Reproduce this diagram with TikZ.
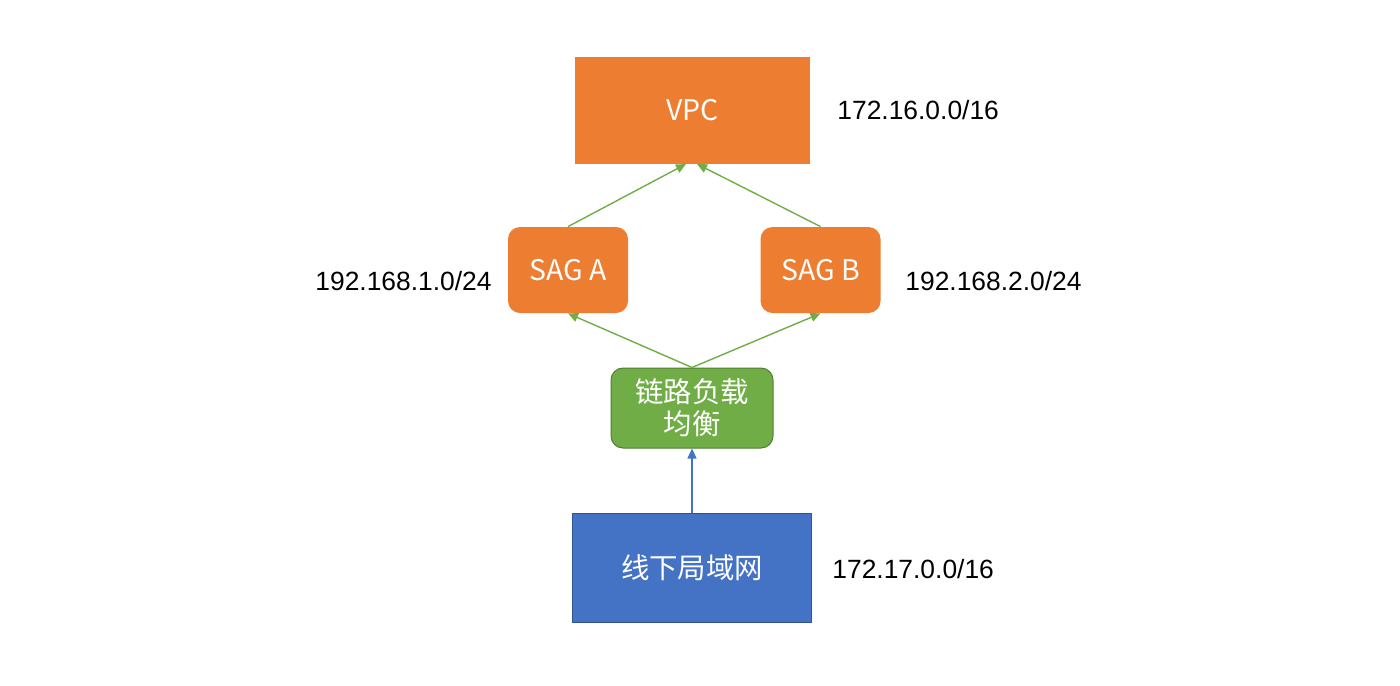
\documentclass[tikz,border=0pt]{standalone}
\usepackage{fontspec}
\setmainfont{Liberation Sans}
\newfontfamily\cjk{Noto Sans CJK SC}
\usetikzlibrary{arrows.meta}
\definecolor{orng}{HTML}{ED7D31}
\definecolor{grn}{HTML}{70AD47}
\definecolor{grnd}{HTML}{507E32}
\definecolor{blu}{HTML}{4472C4}
\definecolor{blud}{HTML}{2F528F}
\tikzset{
  box/.style={inner sep=0pt, text=white, font=\cjk\fontsize{14.2}{16}\selectfont, align=center},
  lbl/.style={inner sep=0pt, font=\fontsize{13.2}{15}\selectfont},
  garr/.style={draw=grn, line width=0.7pt, -{Triangle[length=5pt,width=4.5pt]}},
  barr/.style={draw=blu, line width=0.7pt, -{Triangle[length=5pt,width=4.5pt]}}
}
\begin{document}
\begin{tikzpicture}[x=0.5pt,y=-0.5pt]
\useasboundingbox (0,0) rectangle (1400,685);
\node[box, fill=orng, minimum width=117.5pt, minimum height=53.5pt] (vpc) at (692.5,110.5) {VPC};
\node[box, fill=orng, rounded corners=6pt, minimum width=60pt, minimum height=43pt] (saga) at (568,270) {SAG A};
\node[box, fill=orng, rounded corners=6pt, minimum width=60pt, minimum height=43pt] (sagb) at (820.5,270) {SAG B};
\node[box, fill=grn, draw=grnd, line width=0.5pt, rounded corners=6pt, minimum width=81pt, minimum height=40pt] (lb) at (692,408) {链路负载\\均衡};
\node[box, fill=blu, draw=blud, line width=0.5pt, minimum width=119.5pt, minimum height=54.5pt] (lan) at (692,567.5) {线下局域网};
\node[lbl, anchor=west] (l1) at (837,110) {172.16.0.0/16};
\node[lbl, anchor=east] (l2) at (492,281) {192.168.1.0/24};
\node[lbl, anchor=west] (l3) at (905,281) {192.168.2.0/24};
\node[lbl, anchor=west] (l4) at (832,569) {172.17.0.0/16};
\coordinate (vpcl) at (686,164);
\coordinate (vpcr) at (697,164);
\draw[garr] (saga.north) -- (vpcl);
\draw[garr] (sagb.north) -- (vpcr);
\draw[garr] (lb.north) -- (saga.south);
\draw[garr] (lb.north) -- (sagb.south);
\draw[barr] (lan.north) -- (lb.south);
\end{tikzpicture}
\end{document}
